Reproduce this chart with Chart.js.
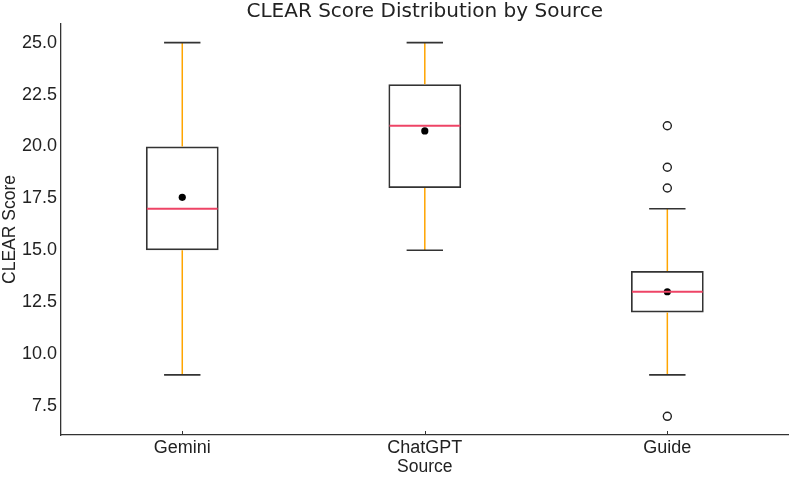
<!DOCTYPE html>
<html lang="en">
<head>
  <meta charset="UTF-8">
  <title>CLEAR Score Distribution by Source</title>
  <script src="https://cdn.jsdelivr.net/npm/chart.js"></script>
  <style>
    html, body { margin: 0; padding: 0; background: #fff; }
    #wrap { width: 794px; height: 478px; }
  </style>
</head>
<body>
  <div id="wrap"><canvas id="boxChart" width="794" height="478"></canvas></div>
  <script>
    // Box plot data
    const sources = ['Gemini', 'ChatGPT', 'Guide'];
    const q1 = [15, 18, 12];
    const q3 = [20, 23, 14];
    const medians = [17, 21, 13];
    const means = [17.55, 20.75, 13];
    const whiskerLow = [9, 15, 9];
    const whiskerHigh = [25, 25, 17];
    const outliers = [[], [], [21, 19, 18, 7]];
    const yTicks = [7.5, 10, 12.5, 15, 17.5, 20, 22.5, 25];
    const chartTitle = 'CLEAR Score Distribution by Source';

    const edgeColor = '#333333';
    const medianColor = '#ee4466';
    const whiskerColor = '#ffa500';

    const outlierPoints = [];
    outliers.forEach((list, i) => list.forEach(v => outlierPoints.push({ x: sources[i], y: v })));

    // whiskers, caps, medians, x tick marks and title, drawn with the chart's scales
    const boxParts = {
      id: 'boxParts',
      afterDatasetsDraw(chart) {
        const { ctx, scales: { x, y } } = chart;
        const step = x.getPixelForValue(1) - x.getPixelForValue(0);
        const boxHalf = step * 0.15;
        const capHalf = step * 0.075;
        ctx.save();
        sources.forEach((s, i) => {
          const cx = x.getPixelForValue(i);
          // whiskers
          ctx.strokeStyle = whiskerColor;
          ctx.lineWidth = 1.5;
          ctx.beginPath();
          ctx.moveTo(cx, y.getPixelForValue(q3[i]));
          ctx.lineTo(cx, y.getPixelForValue(whiskerHigh[i]));
          ctx.moveTo(cx, y.getPixelForValue(q1[i]));
          ctx.lineTo(cx, y.getPixelForValue(whiskerLow[i]));
          ctx.stroke();
          // caps
          ctx.strokeStyle = edgeColor;
          ctx.lineWidth = 1.7;
          ctx.beginPath();
          [whiskerHigh[i], whiskerLow[i]].forEach(v => {
            const py = y.getPixelForValue(v);
            ctx.moveTo(cx - capHalf, py);
            ctx.lineTo(cx + capHalf, py);
          });
          ctx.stroke();
          // median
          ctx.strokeStyle = medianColor;
          ctx.lineWidth = 2;
          ctx.beginPath();
          const my = y.getPixelForValue(medians[i]);
          ctx.moveTo(cx - boxHalf + 1, my);
          ctx.lineTo(cx + boxHalf - 1, my);
          ctx.stroke();
        });
        ctx.restore();
      },
      afterDraw(chart) {
        const { ctx, scales: { x }, chartArea } = chart;
        ctx.save();
        // inward x tick marks
        ctx.strokeStyle = edgeColor;
        ctx.lineWidth = 1;
        ctx.beginPath();
        sources.forEach((s, i) => {
          const px = Math.round(x.getPixelForValue(i)) + 0.5;
          ctx.moveTo(px, chartArea.bottom);
          ctx.lineTo(px, chartArea.bottom - 4);
        });
        ctx.stroke();
        // title centred over the plot area
        ctx.fillStyle = '#222';
        ctx.font = '20px "DejaVu Sans"';
        ctx.textAlign = 'center';
        ctx.textBaseline = 'middle';
        ctx.fillText(chartTitle, (chartArea.left + chartArea.right) / 2, 12);
        ctx.restore();
      }
    };

    const ctx = document.getElementById('boxChart').getContext('2d');
    new Chart(ctx, {
      type: 'bar',
      data: {
        labels: sources,
        datasets: [
          {
            type: 'scatter',
            label: 'Mean',
            data: means.map((m, i) => ({ x: sources[i], y: m })),
            pointRadius: 3.6,
            pointBackgroundColor: '#000',
            pointBorderColor: '#000',
            pointBorderWidth: 0,
            order: 0
          },
          {
            type: 'scatter',
            label: 'Outliers',
            data: outlierPoints,
            pointRadius: 4,
            pointBackgroundColor: 'rgba(0,0,0,0)',
            pointBorderColor: '#222',
            pointBorderWidth: 1.4,
            order: 1
          },
          {
            label: 'IQR',
            data: q1.map((v, i) => [v, q3[i]]),
            backgroundColor: 'rgba(0,0,0,0)',
            borderColor: edgeColor,
            borderWidth: 1.7,
            borderSkipped: false,
            barPercentage: 0.3,
            categoryPercentage: 1.0,
            order: 2
          }
        ]
      },
      options: {
        responsive: false,
        animation: false,
        layout: { padding: { left: 0, right: 3, top: 24, bottom: 0 } },
        plugins: {
          legend: { display: false },
          tooltip: { enabled: false },
          title: { display: false }
        },
        scales: {
          x: {
            type: 'category',
            offset: true,
            grid: { display: false, drawTicks: false, tickLength: 0 },
            border: { display: true, color: edgeColor, width: 1.3 },
            ticks: {
              color: '#222',
              padding: 2,
              font: { family: 'Liberation Sans', size: 18 }
            },
            title: {
              display: true,
              text: 'Source',
              color: '#222',
              padding: { top: 0, bottom: 0 },
              font: { family: 'Liberation Sans', size: 17.5 }
            },
            afterFit(scale) { scale.height = 43; }
          },
          y: {
            min: 6.1,
            max: 25.9,
            grid: { display: false, drawTicks: false, tickLength: 0 },
            border: { display: true, color: edgeColor, width: 1.3 },
            ticks: {
              color: '#222',
              padding: 4,
              font: { family: 'Liberation Sans', size: 18 },
              callback: v => v.toFixed(1)
            },
            afterBuildTicks(scale) {
              scale.ticks = yTicks.map(v => ({ value: v }));
            },
            title: {
              display: true,
              text: 'CLEAR Score',
              color: '#222',
              padding: { top: 0, bottom: 0 },
              font: { family: 'Liberation Sans', size: 17.5 }
            },
            afterFit(scale) { scale.width = 61; }
          }
        }
      },
      plugins: [boxParts]
    });
  </script>
</body>
</html>
